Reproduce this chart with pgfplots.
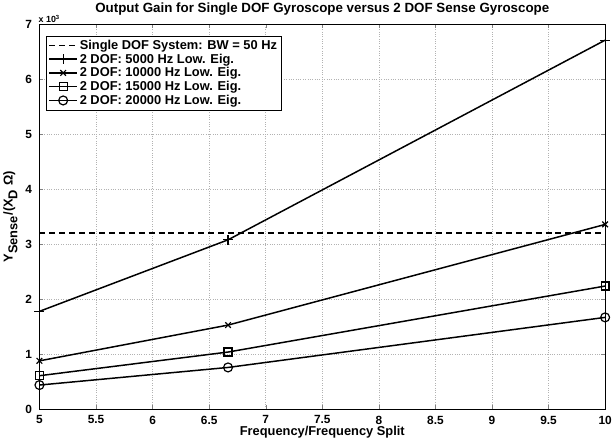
\documentclass[border=0pt]{standalone}
\usepackage{fontspec}
\setmainfont{Liberation Sans}
\usepackage{pgfplots}
\pgfplotsset{compat=1.18}
\begin{document}
\begin{tikzpicture}[x=1bp,y=1bp]
\begin{axis}[
  scale only axis,
  width=570bp, height=388bp,
  xmin=5, xmax=10, ymin=0, ymax=7,
  xtick={5,5.5,...,10},
  ytick={0,1,...,7},
  /pgf/number format/assume math mode=true,
  ticklabel style={font=\bfseries\fontsize{12}{14}\selectfont},
  xticklabel style={yshift=-3bp},
  yticklabel style={xshift=-4bp},
  tick align=inside,
  major tick length=4bp,
  grid=major,
  major grid style={dotted, gray!60, line width=0.6bp},
  axis line style={line width=0.8bp},
  title={\bfseries Output Gain for Single DOF Gyroscope versus 2 DOF Sense Gyroscope},
  title style={font=\fontsize{13.5}{15}\selectfont, yshift=-1bp},
  xlabel={\bfseries Frequency/Frequency Split},
  ylabel={\bfseries Y$_{\textbf{Sense}}$/(X$_{\textbf{D}}$ Ω)},
  label style={font=\fontsize{13}{15}\selectfont},
  xlabel style={yshift=5bp},
  ylabel style={yshift=1bp},
  legend style={at={(0.012,0.97)}, anchor=north west, draw=black, line width=0.6bp, font=\bfseries\fontsize{13}{15}\selectfont, inner sep=2bp, row sep=-1bp, cells={anchor=west}},
  legend image code/.code={\draw[mark repeat=2,mark phase=2,#1] plot coordinates {(0bp,0bp) (14bp,0bp) (28bp,0bp)};},
  legend cell align=left,
  every axis plot/.append style={black, line width=1.5bp, mark options={solid, line width=1.2bp}},
  extra description/.code={\node[anchor=south west, inner sep=0pt, font=\bfseries\fontsize{9}{10}\selectfont] at (rel axis cs:0,1) [xshift=-1bp, yshift=1bp] {x 10$^{\mathbf{3}}$};},
]
\addplot[dash pattern=on 6bp off 4bp] coordinates {(5,3.2) (10,3.2)};
\addlegendentry{Single DOF System: BW = 50 Hz}
\addplot[mark=+, mark size=5bp] coordinates {(5,1.78) (6.6667,3.08) (10,6.71)};
\addlegendentry{2 DOF: 5000 Hz Low. Eig.}
\addplot[mark=x, mark size=4bp] coordinates {(5,0.88) (6.6667,1.53) (10,3.36)};
\addlegendentry{2 DOF: 10000 Hz Low. Eig.}
\addplot[mark=square, mark size=4bp] coordinates {(5,0.61) (6.6667,1.04) (10,2.24)};
\addlegendentry{2 DOF: 15000 Hz Low. Eig.}
\addplot[mark=o, mark size=4.5bp] coordinates {(5,0.44) (6.6667,0.76) (10,1.67)};
\addlegendentry{2 DOF: 20000 Hz Low. Eig.}
\end{axis}
\end{tikzpicture}
\end{document}
